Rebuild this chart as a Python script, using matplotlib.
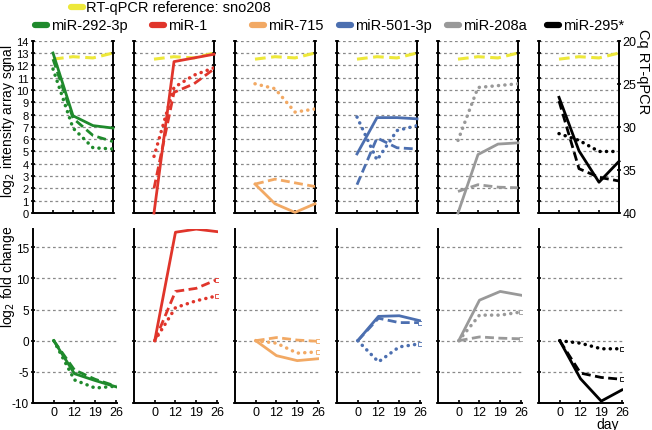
import matplotlib
matplotlib.use("Agg")
import matplotlib.pyplot as plt
from matplotlib.lines import Line2D

plt.rcParams['font.family'] = ['Liberation Sans', 'DejaVu Sans']

days = [0, 12, 19, 26]
day_labels = ['0', '12', '19', '26']
mirnas = ['miR-292-3p', 'miR-1', 'miR-715', 'miR-501-3p', 'miR-208a', 'miR-295*']
colors = ['#1f8a2c', '#e0352b', '#f2a964', '#4c6fb0', '#999999', '#000000']
ref_label = 'RT-qPCR reference: sno208'
ref_sno208 = [12.5, 12.7, 12.6, 13.0]

# top: log2 intensity array signal (solid, dashed, dotted)
sig_solid = [
    [13.0, 7.9, 7.1, 6.9],
    [0.0, 12.3, 12.6, 12.9],
    [2.35, 0.75, 0.05, 0.75],
    [4.8, 7.75, 7.75, 7.65],
    [0.0, 4.75, 5.6, 5.7],
    [9.4, 5.05, 2.5, 4.2],
]
sig_dashed = [
    [12.5, 7.7, 6.3, 5.8],
    [2.0, 9.8, 10.5, 11.7],
    [2.35, 2.75, 2.45, 2.15],
    [2.3, 6.1, 5.3, 5.2],
    [1.75, 2.3, 2.1, 2.05],
    [9.1, 3.6, 2.9, 2.6],
]
sig_dotted = [
    [11.7, 6.9, 5.3, 5.2],
    [4.6, 10.2, 11.2, 11.8],
    [10.5, 10.1, 8.2, 8.45],
    [7.8, 4.3, 6.7, 7.1],
    [5.9, 10.2, 10.35, 10.5],
    [6.45, 5.9, 5.0, 5.0],
]
# bottom: log2 fold change
fc_solid = [
    [0, -5.3, -6.4, -7.4],
    [0, 17.4, 17.9, 17.5],
    [0, -2.4, -3.2, -2.9],
    [0, 3.9, 4.0, 3.2],
    [0, 6.5, 7.9, 7.3],
    [0, -6.1, -9.7, -7.9],
]
fc_dashed = [
    [0, -4.7, -6.2, -7.3],
    [0, 7.9, 8.4, 9.8],
    [0, 0.5, 0.1, -0.1],
    [0, 3.6, 2.9, 2.9],
    [0, 0.6, 0.4, 0.3],
    [0, -5.2, -5.9, -6.2],
]
fc_dotted = [
    [0, -6.3, -7.6, -7.3],
    [0, 5.3, 6.4, 7.2],
    [0, -0.4, -2.0, -1.8],
    [0, -3.4, -1.0, -0.5],
    [0, 4.1, 4.1, 4.6],
    [0, -0.4, -1.3, -1.3],
]
cq_ticks = [20, 25, 30, 35, 40]

W, H = 652, 431
fig = plt.figure(figsize=(W / 100, H / 100), dpi=100)

col_left = [33, 134, 235, 337, 438, 539]
col_w = 80
pos = list(range(len(days)))

DASH = (0, (3.2, 1.6))
DOT = (0, (0.05, 1.8))
REF_DASH = (0, (3.5, 1.8))
GRID = dict(color='#8a8a8a', lw=0.9, ls=(0, (2.2, 2.2)), zorder=0)


def fx(px):
    return px / W


def fy(py):
    return 1 - py / H


for i in range(6):
    c = colors[i]
    # ---- top panel ----
    ax = fig.add_axes([fx(col_left[i]), fy(214), fx(col_w), (214 - 41.7) / H])
    ax.set_xlim(-1, 3)
    ax.set_ylim(0, 14)
    for g in range(1, 15):
        ax.axhline(g, **GRID)
    ax.plot(pos, ref_sno208, color='#ede83a', lw=2.2, ls=REF_DASH, zorder=2)
    ax.plot(pos, sig_solid[i], color=c, lw=2.0, zorder=3, clip_on=False)
    ax.plot(pos, sig_dashed[i], color=c, lw=2.0, ls=DASH, zorder=3)
    ax.plot(pos, sig_dotted[i], color=c, lw=2.5, ls=DOT, dash_capstyle='round', zorder=3)
    ax.spines['top'].set_visible(False)
    for s in ['left', 'right', 'bottom']:
        ax.spines[s].set_linewidth(1.4)
    ax.set_xticks(pos)
    ax.set_xticklabels([])
    ax.set_yticks(range(0, 15))
    ax.tick_params(axis='x', direction='in', length=2.5, width=1.2)
    ax.tick_params(axis='y', direction='inout', length=3, width=1.2, right=True,
                   labelsize=8, pad=1.5)
    if i == 0:
        ax.set_yticklabels([str(v) for v in range(0, 15)])
    else:
        ax.set_yticklabels([])
    if i == 5:
        ax2 = ax.twinx()
        ax2.set_ylim(40, 20)
        ax2.set_yticks(cq_ticks)
        ax2.tick_params(axis='y', direction='inout', length=3, width=1.2, labelsize=9, pad=1)
        for s in ['top', 'left', 'bottom']:
            ax2.spines[s].set_visible(False)
        ax2.spines['right'].set_linewidth(1.4)

    # ---- bottom panel ----
    bx = fig.add_axes([fx(col_left[i]), fy(404), fx(col_w) + 4 / W, (404 - 229.5) / H])
    bx.set_xlim(-1, 3.05)
    bx.set_ylim(-10, 18)
    for g in [-5, 0, 5, 10, 15]:
        bx.plot([-0.85, 3.0], [g, g], **GRID)
    bx.plot(pos, fc_solid[i], color=c, lw=2.0, zorder=3)
    bx.plot(pos, fc_dashed[i], color=c, lw=2.0, ls=DASH, zorder=3)
    bx.plot(pos, fc_dotted[i], color=c, lw=2.5, ls=DOT, dash_capstyle='round', zorder=3)
    if i > 0:
        bx.plot([pos[-1]], [fc_dashed[i][-1]], marker='s', ms=3, mfc='white', mec=c, mew=0.6, zorder=4)
        bx.plot([pos[-1]], [fc_dotted[i][-1]], marker='s', ms=3, mfc='white', mec=c, mew=0.6, zorder=4)
    for s in ['top', 'right']:
        bx.spines[s].set_visible(False)
    for s in ['left', 'bottom']:
        bx.spines[s].set_linewidth(1.4)
    bx.set_xticks(pos)
    bx.set_xticklabels(day_labels, fontsize=9)
    bx.set_yticks([-10, -5, 0, 5, 10, 15])
    bx.tick_params(axis='x', direction='in', length=2.5, width=1.2, pad=2)
    bx.tick_params(axis='y', direction='inout', length=3, width=1.2, labelsize=8.5, pad=1.5)
    if i == 0:
        bx.set_yticklabels(['-10', '-5', '0', '5', '10', '15'])
    else:
        bx.set_yticklabels([])

# axis titles
fig.text(fx(8), fy(121), 'log$_2$ intensity array sgnal', rotation=90, ha='center', va='center', fontsize=10)
fig.text(fx(8), fy(277), 'log$_2$ fold change', rotation=90, ha='center', va='center', fontsize=10)
fig.text(fx(643), fy(72), 'Cq RT-qPCR', rotation=270, ha='center', va='center', fontsize=10.5)
fig.text(fx(608), fy(425), 'day', ha='center', va='center', fontsize=10)

# legends
fig.add_artist(Line2D([fx(71), fx(83)], [fy(7.5), fy(7.5)], color='#ede83a', lw=4.5,
                      solid_capstyle='round', transform=fig.transFigure))
fig.text(fx(86), fy(8), ref_label, ha='left', va='center', fontsize=10.5)
marker_x = [35, 152, 252, 339, 447, 547]
for i in range(6):
    fig.add_artist(Line2D([fx(marker_x[i]), fx(marker_x[i] + 12)], [fy(25.5), fy(25.5)],
                          color=colors[i], lw=4.5, solid_capstyle='round',
                          transform=fig.transFigure))
    fig.text(fx(marker_x[i] + 16), fy(26), mirnas[i], ha='left', va='center', fontsize=10.5)

fig.savefig('out.png', dpi=100)
